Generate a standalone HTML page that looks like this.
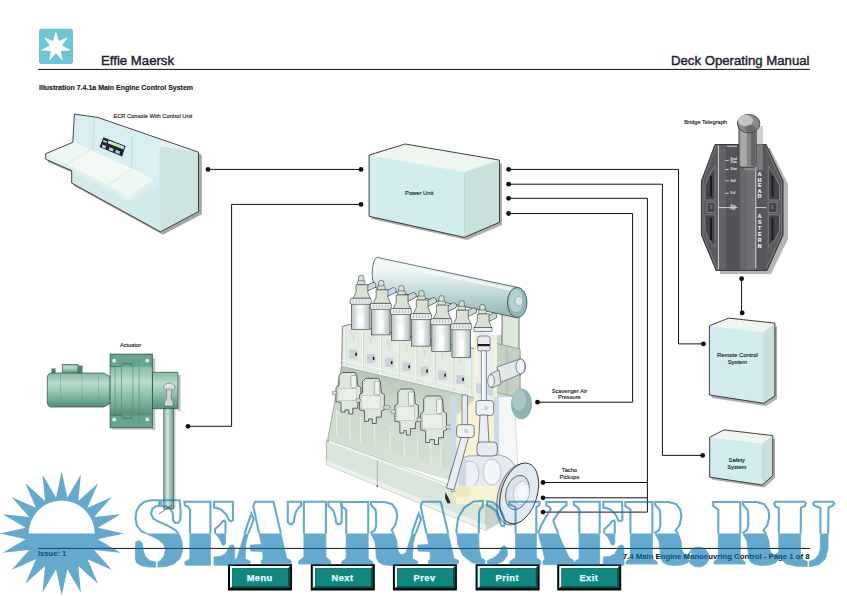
<!DOCTYPE html>
<html><head><meta charset="utf-8">
<style>
html,body{margin:0;padding:0;background:#fff;width:847px;height:596px;overflow:hidden}
svg{display:block}
text{font-family:"Liberation Sans",sans-serif}
</style></head><body>
<svg width="847" height="596" viewBox="0 0 847 596">
<defs>
<linearGradient id="gMan" x1="0" y1="0" x2="0" y2="1"><stop offset="0" stop-color="#eef5f5"/><stop offset="0.15" stop-color="#f4f9f9"/><stop offset="0.45" stop-color="#d3e3e4"/><stop offset="0.8" stop-color="#a9c5c7"/><stop offset="1" stop-color="#8fb1b3"/></linearGradient>
<linearGradient id="gAct" x1="0" y1="0" x2="0" y2="1"><stop offset="0" stop-color="#86bba6"/><stop offset="0.3" stop-color="#b9ddcd"/><stop offset="0.6" stop-color="#8ec2ac"/><stop offset="1" stop-color="#568f7a"/></linearGradient>
<linearGradient id="gRod" x1="0" y1="0" x2="1" y2="0"><stop offset="0" stop-color="#7fae9c"/><stop offset="0.4" stop-color="#cfe6dc"/><stop offset="1" stop-color="#6f9e8c"/></linearGradient>
<linearGradient id="gTel" x1="0" y1="0" x2="1" y2="0"><stop offset="0" stop-color="#3a3a3a"/><stop offset="0.5" stop-color="#6a6a6a"/><stop offset="1" stop-color="#3e3e3e"/></linearGradient>
<linearGradient id="gCup" x1="0" y1="0" x2="1" y2="0"><stop offset="0" stop-color="#b3bfbf"/><stop offset="0.2" stop-color="#e0e7e7"/><stop offset="0.5" stop-color="#f8fafa"/><stop offset="0.8" stop-color="#d8e0e0"/><stop offset="1" stop-color="#a5b2b2"/></linearGradient>
</defs>
<rect width="847" height="596" fill="#fff"/>

<!-- HEADER -->
<rect x="39" y="28.7" width="34" height="35.2" rx="2.7" fill="#6dc4d7"/>
<polygon fill="#fff" points="55.9,31.5 58.7,41.1 67.9,37.3 62.1,45.5 70.9,50.3 60.9,50.9 62.6,60.8 55.9,53.3 49.2,60.8 50.9,50.9 40.9,50.3 49.7,45.5 43.9,37.3 53.1,41.1"/>
<text x="101" y="64.7" font-size="13.2" fill="#1f2130" stroke="#1f2130" stroke-width="0.42">Effie Maersk</text>
<text x="809.5" y="64.8" font-size="13.2" fill="#1f2130" stroke="#1f2130" stroke-width="0.42" text-anchor="end">Deck Operating Manual</text>
<rect x="38" y="68.9" width="772" height="1" fill="#111"/>
<text x="39" y="90" font-size="7" font-weight="bold" fill="#1c1418" stroke="#1c1418" stroke-width="0.12">Illustration 7.4.1a Main Engine Control System</text>

<!-- CONNECTION LINES -->
<g stroke="#111" stroke-width="1" fill="none">
<path d="M208,169.4H361"/>
<path d="M361,204.4H231.6V426.3H188"/>
<path d="M508.6,169.4H678.5V343.9H703.5"/>
<path d="M508.6,184.2H662.4V455.4H702.7"/>
<path d="M508.6,198.3H647.4V512.1H543 M647.4,482.5H543 M647.4,497.8H543"/>
<path d="M508.6,213.5H632.6V402.2H537.5"/>
<path d="M741.6,278.7V312.9"/>
</g>
<g fill="#111">
<circle cx="208" cy="169.4" r="2.4"/>
<circle cx="361" cy="169.4" r="2.4"/>
<circle cx="361" cy="204.4" r="2.4"/>
<circle cx="188" cy="426.3" r="2.4"/>
<circle cx="508.6" cy="169.4" r="2.4"/>
<circle cx="508.6" cy="184.2" r="2.4"/>
<circle cx="508.6" cy="198.3" r="2.4"/>
<circle cx="508.6" cy="213.5" r="2.4"/>
<circle cx="703.5" cy="343.9" r="2.4"/>
<circle cx="702.7" cy="455.4" r="2.4"/>
<circle cx="537.5" cy="402.2" r="2.4"/>
<circle cx="543" cy="482.5" r="2.4"/>
<circle cx="543" cy="497.8" r="2.4"/>
<circle cx="543" cy="512.1" r="2.4"/>
<circle cx="741.6" cy="278.7" r="2.4"/>
<circle cx="742.2" cy="312.9" r="2.4"/>
</g>

<!-- POWER UNIT -->
<g>
<polygon points="371.5,158 467,175 502,163 502,225 467,240 371.5,219" fill="#9a9a9a" opacity="0.8"/>
<polygon points="369.1,155.1 405.2,144.0 499.5,160.1 464.4,172.1" fill="#eff6ef"/>
<polygon points="369.1,155.1 464.4,172.1 464.4,237.4 369.1,216.3" fill="#d3ecee"/>
<polygon points="464.4,172.1 499.5,160.1 499.5,222.3 464.4,237.4" fill="#c9e0dc"/>
<polygon points="369.1,155.1 405.2,144.0 499.5,160.1 499.5,222.3 464.4,237.4 369.1,216.3" fill="none" stroke="#2a2a2a" stroke-width="0.9"/>
<text x="419.2" y="195" font-size="5.8" text-anchor="middle" fill="#111" stroke="#111" stroke-width="0.12">Power Unit</text>
</g>

<!-- REMOTE CONTROL -->
<g>
<polygon points="711.5,328 766,335 777,326 777,399 766,406 711.5,398" fill="#9a9a9a" opacity="0.8"/>
<polygon points="709.4,325.8 728.7,318.1 774.9,323.1 763.8,332.3" fill="#eff6ef"/>
<polygon points="709.4,325.8 763.8,332.3 763.8,403.3 709.4,395" fill="#d3ecee"/>
<polygon points="763.8,332.3 774.9,323.1 774.9,396 763.8,403.3" fill="#c9e0dc"/>
<polygon points="709.4,325.8 728.7,318.1 774.9,323.1 774.9,396 763.8,403.3 709.4,395" fill="none" stroke="#2a2a2a" stroke-width="0.9"/>
<text x="737.4" y="357" font-size="5.8" text-anchor="middle" fill="#111" stroke="#111" stroke-width="0.12">Remote Control</text>
<text x="737.4" y="364.3" font-size="5.8" text-anchor="middle" fill="#111" stroke="#111" stroke-width="0.12">System</text>
</g>

<!-- SAFETY -->
<g>
<polygon points="711.5,439.5 764.5,446 775,438 775,478 764.5,487.5 711.5,479.5" fill="#9a9a9a" opacity="0.8"/>
<polygon points="709.7,437.2 724,429.9 772.8,435.6 762.3,443.6" fill="#eff6ef"/>
<polygon points="709.7,437.2 762.3,443.6 762.3,485 709.7,477.1" fill="#d3ecee"/>
<polygon points="762.3,443.6 772.8,435.6 772.8,475.5 762.3,485" fill="#c9e0dc"/>
<polygon points="709.7,437.2 724,429.9 772.8,435.6 772.8,475.5 762.3,485 709.7,477.1" fill="none" stroke="#2a2a2a" stroke-width="0.9"/>
<text x="736.8" y="462.2" font-size="5.8" text-anchor="middle" fill="#111" stroke="#111" stroke-width="0.12">Safety</text>
<text x="736.8" y="468.9" font-size="5.8" text-anchor="middle" fill="#111" stroke="#111" stroke-width="0.12">System</text>
</g>

<!-- ECR CONSOLE -->
<g>
<polygon points="76.9,116.6 100.2,119.9 201.8,154.8 201.8,214.3 162.8,234.8 73.9,185.8 73.9,173.3 47.9,162 47.9,156.4 75,145" fill="#8e8e8e" opacity="0.8"/>
<polygon points="74.4,114.1 97.7,117.4 198.5,152.2 198.5,211.5 160.5,231.8 71.7,183.1 71.7,170.6 45.7,159.3 45.7,153.7 72.8,142.3" fill="#d9eef0"/>
<!-- back panel divisions -->
<line x1="94.3" y1="118.6" x2="92.6" y2="150.6" stroke="#b5cfd2" stroke-width="0.6"/>
<line x1="132.1" y1="136" x2="131.5" y2="168" stroke="#b5cfd2" stroke-width="0.6"/>
<!-- right face -->
<polygon points="159.3,139.2 198.5,152.2 159.3,146.2" fill="#e6f2ee"/>
<polygon points="159.3,146.2 198.5,152.2 198.5,211.5 160.5,231.8 159.3,231" fill="#cfe4e1"/>
<!-- lower body front -->
<polygon points="71.7,172.6 129,199.5 159.3,188 159.3,231 71.7,183.1" fill="#d5eaea"/>
<!-- desk surfaces -->
<polygon points="46.1,154.6 72.2,141.5 90.6,149.9 66.9,164.5" fill="#eef7f3"/>
<polygon points="66.9,164.5 90.6,149.9 132.1,168.4 107.5,185.3" fill="#f2f9f5"/>
<polygon points="107.5,185.3 132.1,168.4 153.6,179.1 129,197.5" fill="#eef7f3"/>
<polygon points="45.7,153.7 46.1,154.6 66.9,164.5 107.5,185.3 129,197.5 153.6,179.1 153.6,183 129,201.5 107.5,189.3 66.9,168.5 45.7,159.3" fill="#e2f0ec"/>
<line x1="66.9" y1="164.5" x2="90.6" y2="149.9" stroke="#c8dcd8" stroke-width="0.5"/>
<line x1="107.5" y1="185.3" x2="132.1" y2="168.4" stroke="#c8dcd8" stroke-width="0.5"/>
<!-- display -->
<polygon points="103.5,137.2 125.5,145.9 122.2,156.4 99.5,147" fill="#1d2636"/>
<polygon points="108.5,140.6 124,146.6 123.3,149.2 107.8,143.2" fill="#d8ecc0"/>
<polygon points="113,142.3 119,144.6 118.5,147 112.4,144.7" fill="#c9e08a"/>
<polygon points="119,144.6 124,146.6 123.3,149.2 118.5,147" fill="#b8dcea"/>
<g fill="#c8ccd8"><polygon points="102.5,144.5 106,146 105.3,148.8 101.8,147.3"/><polygon points="109.5,147.2 113.5,148.8 112.8,151.6 108.8,150"/><polygon points="116,149.8 120,151.4 119.3,154.2 115.3,152.6"/><polygon points="103.5,140 107,141.3 106.5,143 103,141.7"/></g>
<!-- outline -->
<polyline points="72.8,142.3 74.4,114.1 97.7,117.4 198.5,152.2 198.5,211.5 160.5,231.8 71.7,183.1 71.7,170.6 45.7,159.3 45.7,153.7 72.8,142.3" fill="none" stroke="#1a1a1a" stroke-width="0.8"/>
</g>

<!-- BRIDGE TELEGRAPH -->
<g>
<polygon points="719,148 770,148 788,184 788,239 771,274 720,274" fill="#a8a8a8" opacity="0.85"/>
<polygon points="715,144.5 766,144.5 783,180.8 783,235.2 767.1,270.4 716.1,270.4 701.4,235.2 701.4,180.8" fill="#5b5b5f" stroke="#2a2a2a" stroke-width="0.9"/>
<polygon points="716,146 765,146 781.5,181 781.5,235 766,268.8 717,268.8 703,235 703,181" fill="none" stroke="#8a8a8a" stroke-width="0.6"/>
<!-- centre strip -->
<rect x="718.4" y="145.5" width="37.4" height="124" fill="#5a5a5e"/>
<rect x="718.4" y="145.5" width="7.6" height="124" fill="#636367"/>
<rect x="726" y="145.5" width="14" height="124" fill="#545458"/>
<rect x="740" y="145.5" width="15.8" height="124" fill="#68686c"/>
<rect x="747" y="145.5" width="8.8" height="124" fill="#707074"/>
<rect x="755.8" y="145.5" width="10.2" height="124" fill="#57575b"/>
<line x1="718.4" y1="145.5" x2="718.4" y2="269.5" stroke="#f2f2f2" stroke-width="0.8"/>
<line x1="755.8" y1="146.8" x2="755.8" y2="268.5" stroke="#f2f2f2" stroke-width="0.8"/>
<line x1="727" y1="146.2" x2="737" y2="146.2" stroke="#eee" stroke-width="0.8"/>
<!-- side panels -->
<g fill="#444448" stroke="#929296" stroke-width="0.7">
<polygon points="715,166 715,200 705,200 705,186 709,176"/>
<polygon points="715,202.3 715,212.5 707,212.5 707,202.3"/>
<polygon points="715,214.8 715,246.6 709,240 705,230 705,214.8"/>
<polygon points="768.3,166 768.3,200 779.5,200 779.5,186 775,176"/>
<polygon points="768.3,202.3 768.3,212.5 777,212.5 777,202.3"/>
<polygon points="768.3,214.8 768.3,246.6 775,240 779.5,230 779.5,214.8"/>
</g>
<g fill="#1c1c1c">
<rect x="710" y="176" width="2" height="21"/><rect x="710" y="218" width="2" height="22"/>
<rect x="771.5" y="176" width="2" height="21"/><rect x="771.5" y="218" width="2" height="22"/>
<rect x="710" y="205" width="2.5" height="4" fill="#6a6a6a"/><rect x="771" y="205" width="2.5" height="4" fill="#6a6a6a"/>
</g>
<!-- scale marks -->
<g stroke="#f0f0f0" stroke-width="0.8">
<line x1="725.2" y1="160.4" x2="728.6" y2="160.4"/>
<line x1="725.2" y1="169.5" x2="728.6" y2="169.5"/>
<line x1="725.2" y1="180.8" x2="728.6" y2="180.8"/>
<line x1="725.2" y1="193.3" x2="728.6" y2="193.3"/>
<line x1="718.4" y1="207.6" x2="737.5" y2="207.6"/>
<line x1="755.8" y1="207.6" x2="766" y2="207.6"/>
</g>
<g fill="#eee" font-size="2.7" font-weight="bold">
<text x="730.6" y="160.1">Dead</text><text x="730.6" y="163.4">Slow</text>
<text x="730.6" y="170.4">Slow</text>
<text x="730.6" y="181.7">Half</text>
<text x="730.6" y="194">Full</text>
<text x="730.6" y="206.5">Nav.</text><text x="730.6" y="209.9">Full</text>
</g>
<g fill="#f4f4f4" stroke="#f4f4f4" stroke-width="0.2" font-size="5.1" font-weight="bold" text-anchor="middle">
<text x="759.6" y="176">A</text><text x="759.6" y="181.6">H</text><text x="759.6" y="187.2">E</text><text x="759.6" y="192.8">A</text><text x="759.6" y="198.4">D</text>
<text x="759.6" y="218">A</text><text x="759.6" y="223.9">S</text><text x="759.6" y="229.8">T</text><text x="759.6" y="235.7">E</text><text x="759.6" y="241.6">R</text><text x="759.6" y="247.5">N</text>
</g>
<!-- handle -->
<path d="M744,126 L763,126 L763,170 L744,170 Z" fill="#a0a0a0" opacity="0.5"/>
<rect x="738.8" y="120" width="17.5" height="47.5" rx="3" fill="#858585" stroke="#2a2a2a" stroke-width="0.6"/>
<rect x="740.3" y="128" width="6.5" height="38" fill="#b0b0b0" opacity="0.85"/>
<rect x="751" y="128" width="4.5" height="38" fill="#5e5e5e" opacity="0.8"/>
<ellipse cx="748.6" cy="123.6" rx="11.3" ry="9.2" fill="#8a8a8a" stroke="#2a2a2a" stroke-width="0.7"/>
<ellipse cx="745.5" cy="120.5" rx="7.5" ry="5.8" fill="#c4c4c4"/>
<ellipse cx="750.5" cy="128.5" rx="5.5" ry="3.5" fill="#6e6e6e"/>
</g>

<!-- ACTUATOR -->
<g>
<rect x="152.3" y="358" width="3" height="72" fill="#9a9a9a" opacity="0.6"/>
<rect x="178" y="375" width="2.6" height="36" fill="#9a9a9a" opacity="0.6"/>
<rect x="112" y="427.7" width="42" height="2.2" fill="#9a9a9a" opacity="0.5"/>
<rect x="167" y="403" width="8.5" height="106" fill="#8a8a8a" opacity="0.45"/>
<rect x="163.8" y="404" width="9.6" height="105" fill="url(#gRod)" stroke="#2d4d44" stroke-width="0.6"/>
<line x1="159" y1="514" x2="172" y2="505" stroke="#222" stroke-width="0.6"/>
<rect x="62.2" y="364.5" width="15.7" height="9" fill="url(#gAct)" stroke="#2d4d44" stroke-width="0.6"/>
<rect x="51.5" y="368.5" width="4" height="4.6" fill="#4d7d70"/>
<rect x="78" y="365.5" width="4.5" height="7.6" fill="#4d7d70"/>
<path d="M52,373.1 H103.5 L110.1,376.5 V403.5 L103.5,407 H52 Q47.3,407 47.3,402 V378 Q47.3,373.1 52,373.1 Z" fill="url(#gAct)" stroke="#2d4d44" stroke-width="0.7"/>
<g stroke="#5e9a86" stroke-width="0.5" opacity="0.8"><line x1="60.5" y1="374" x2="60.5" y2="406"/><line x1="82" y1="374" x2="82" y2="406"/><line x1="98.5" y1="374" x2="98.5" y2="406"/></g>
<path d="M152.3,372.3 H177.9 V408.7 H152.3 Z" fill="url(#gAct)" stroke="#2d4d44" stroke-width="0.7"/>
<path d="M110.1,354.1 H152.3 V372.3 M152.3,408.7 V427.7 H110.1 Z" fill="none"/>
<rect x="110.1" y="354.1" width="42.2" height="73.6" fill="#68a48e" stroke="#2d4d44" stroke-width="0.8"/>
<rect x="110.6" y="366.5" width="41.2" height="48.8" fill="url(#gAct)"/>
<g stroke="#4f8a75" stroke-width="0.6"><line x1="115" y1="366.5" x2="115" y2="415.3"/><line x1="121.5" y1="366.5" x2="121.5" y2="415.3"/><line x1="133" y1="360" x2="133" y2="422"/><line x1="139" y1="360" x2="139" y2="422"/></g>
<path d="M110.6,366.5 H121 L123,363.5 H131 V366.5" fill="none" stroke="#2d4d44" stroke-width="0.5"/>
<path d="M110.6,415.3 H121 L123,418.3 H131 V415.3" fill="none" stroke="#2d4d44" stroke-width="0.5"/>
<g fill="#e8f5f0"><circle cx="114.2" cy="360.7" r="1.9"/><circle cx="147.3" cy="360.7" r="1.9"/><circle cx="114.2" cy="419.4" r="1.9"/><circle cx="147.3" cy="419.4" r="1.9"/></g>
<ellipse cx="169.3" cy="387" rx="5.5" ry="3.8" fill="#dfe5e5" stroke="#555" stroke-width="0.5"/>
<path d="M166.5,389 L172,389 L171,398 L173,402 L173,406 L164.5,406 L164.5,402 L166.5,398 Z" fill="#cfd7d7" stroke="#555" stroke-width="0.5"/>
</g>

<polygon points="494.0,336.0 503.0,334.0 519.0,348.0 521.0,352.0 521.0,398.0 494.0,398.0" fill="#c9d6c9"/>
<polygon points="502.0,306.0 519.0,309.0 519.0,352.0 502.0,349.0" fill="#dde7db" stroke="#222" stroke-width="0.6"/>
<polygon points="495.0,343.0 520.0,349.0 520.0,398.0 495.0,392.0" fill="#c3d0c3" stroke="#556" stroke-width="0.4"/>
<line x1="507" y1="346" x2="507" y2="395" stroke="#9aa79a" stroke-width="0.5"/>
<path d="M380,258 L517,287.3 L517,317.7 L376,288 A5.5,15 0 0 1 380,258 Z" fill="url(#gMan)" stroke="#2b3a3a" stroke-width="0.7"/>
<path d="M382,262 L515,290" stroke="#f4fafa" stroke-width="3" opacity="0.8"/>
<ellipse cx="517.2" cy="302.5" rx="9.8" ry="15.2" fill="#93b7b9" stroke="#2b3a3a" stroke-width="0.7"/>
<ellipse cx="516" cy="300.5" rx="7" ry="11.5" fill="#b3cfd0"/>
<ellipse cx="519" cy="301" rx="3.8" ry="4.6" fill="#d8e8e8" stroke="#6a8a8a" stroke-width="0.4"/>
<line x1="365.2" y1="289.3" x2="373.2" y2="285.3" stroke="#2f4444" stroke-width="6.2" stroke-linecap="round"/>
<line x1="365.2" y1="289.3" x2="373.2" y2="285.3" stroke="#c9dadb" stroke-width="5" stroke-linecap="round"/>
<line x1="385.3" y1="294.4" x2="393.3" y2="290.4" stroke="#2f4444" stroke-width="6.2" stroke-linecap="round"/>
<line x1="385.3" y1="294.4" x2="393.3" y2="290.4" stroke="#c9dadb" stroke-width="5" stroke-linecap="round"/>
<line x1="405.4" y1="299.5" x2="413.4" y2="295.5" stroke="#2f4444" stroke-width="6.2" stroke-linecap="round"/>
<line x1="405.4" y1="299.5" x2="413.4" y2="295.5" stroke="#c9dadb" stroke-width="5" stroke-linecap="round"/>
<line x1="425.5" y1="304.6" x2="433.5" y2="300.6" stroke="#2f4444" stroke-width="6.2" stroke-linecap="round"/>
<line x1="425.5" y1="304.6" x2="433.5" y2="300.6" stroke="#c9dadb" stroke-width="5" stroke-linecap="round"/>
<line x1="445.6" y1="309.7" x2="453.6" y2="305.7" stroke="#2f4444" stroke-width="6.2" stroke-linecap="round"/>
<line x1="445.6" y1="309.7" x2="453.6" y2="305.7" stroke="#c9dadb" stroke-width="5" stroke-linecap="round"/>
<line x1="465.7" y1="314.8" x2="473.7" y2="310.8" stroke="#2f4444" stroke-width="6.2" stroke-linecap="round"/>
<line x1="465.7" y1="314.8" x2="473.7" y2="310.8" stroke="#c9dadb" stroke-width="5" stroke-linecap="round"/>
<line x1="485.8" y1="319.9" x2="493.8" y2="315.9" stroke="#2f4444" stroke-width="6.2" stroke-linecap="round"/>
<line x1="485.8" y1="319.9" x2="493.8" y2="315.9" stroke="#c9dadb" stroke-width="5" stroke-linecap="round"/>
<defs><linearGradient id="gFr" x1="0" y1="0" x2="0" y2="1"><stop offset="0" stop-color="#b2c2b3"/><stop offset="0.3" stop-color="#cad7ca"/><stop offset="1" stop-color="#dce6dc"/></linearGradient></defs>
<polygon points="341.7,365.0 476.0,396.5 476.0,488.0 327.5,444.0 327.5,440.0" fill="url(#gFr)"/>
<line x1="341.7" y1="365" x2="327.5" y2="440" stroke="#666" stroke-width="0.5"/>
<polygon points="336.6,410.2 349.8,414.1 349.8,439.1 336.6,435.2" fill="#d2ddd2"/>
<line x1="336.6" y1="410.2" x2="336.6" y2="435.2" stroke="#f7faf7" stroke-width="1" stroke-dasharray="1.6,1.3"/>
<line x1="349.8" y1="414.1" x2="349.8" y2="439.1" stroke="#f7faf7" stroke-width="1" stroke-dasharray="1.6,1.3"/>
<polygon points="360.5,417.4 374.6,421.6 374.6,446.6 360.5,442.4" fill="#d2ddd2"/>
<line x1="360.5" y1="417.4" x2="360.5" y2="442.4" stroke="#f7faf7" stroke-width="1" stroke-dasharray="1.6,1.3"/>
<line x1="374.6" y1="421.6" x2="374.6" y2="446.6" stroke="#f7faf7" stroke-width="1" stroke-dasharray="1.6,1.3"/>
<polygon points="390.3,426.3 404.3,430.5 404.3,455.5 390.3,451.3" fill="#d2ddd2"/>
<line x1="390.3" y1="426.3" x2="390.3" y2="451.3" stroke="#f7faf7" stroke-width="1" stroke-dasharray="1.6,1.3"/>
<line x1="404.3" y1="430.5" x2="404.3" y2="455.5" stroke="#f7faf7" stroke-width="1" stroke-dasharray="1.6,1.3"/>
<polygon points="417.6,434.5 430.8,438.4 430.8,463.4 417.6,459.5" fill="#d2ddd2"/>
<line x1="417.6" y1="434.5" x2="417.6" y2="459.5" stroke="#f7faf7" stroke-width="1" stroke-dasharray="1.6,1.3"/>
<line x1="430.8" y1="438.4" x2="430.8" y2="463.4" stroke="#f7faf7" stroke-width="1" stroke-dasharray="1.6,1.3"/>
<polygon points="441,441.5 452,444.8 452,469.8 441,466.5" fill="#d2ddd2"/>
<line x1="441" y1="441.5" x2="441" y2="466.5" stroke="#f7faf7" stroke-width="1" stroke-dasharray="1.6,1.3"/>
<line x1="452" y1="444.8" x2="452" y2="469.8" stroke="#f7faf7" stroke-width="1" stroke-dasharray="1.6,1.3"/>
<polygon points="326.4,439.1 446.0,483.7 486.0,496.0 486.0,530.5 326.4,464.6" fill="#dae6db" stroke="#5a5a5a" stroke-width="0.4"/>
<polygon points="326.4,460.0 486.0,525.0 486.0,530.5 326.4,464.6" fill="#eaf2eb"/>
<polygon points="326.4,439.1 446.0,483.7 446.0,486.0 326.4,441.5" fill="#eef4ee"/>
<line x1="377.4" y1="461" x2="377.4" y2="485.9" stroke="#7d8c7d" stroke-width="0.5"/>
<circle cx="377.4" cy="486" r="0.8" fill="#222"/><circle cx="328" cy="441" r="0.7" fill="#222"/>
<polygon points="486.0,496.0 500.0,488.0 500.0,523.0 486.0,530.5" fill="#c4d1c5"/>
<polygon points="342.4,326.4 349.8,324.4 476.0,349.0 476.0,396.5 341.7,365.0" fill="#e3ebe2" stroke="#3a3a3a" stroke-width="0.6"/>
<line x1="345.0" y1="327.9" x2="345.0" y2="365.8" stroke="#f7faf7" stroke-width="1.1"/>
<line x1="346.0" y1="327.9" x2="346.0" y2="365.8" stroke="#b9c5b9" stroke-width="0.5"/>
<rect x="349.3" y="349.8" width="8.4" height="9" rx="1.5" fill="#c9d2d6"/>
<rect x="355.3" y="352.8" width="1.6" height="3" fill="#1a1a1a"/>
<path d="M350.5,331.9 l3,5 l3,-5 M353.5,336.9 v5" stroke="#c2cdc2" stroke-width="0.6" fill="none"/>
<line x1="362.5" y1="331.3" x2="362.5" y2="369.9" stroke="#f7faf7" stroke-width="1.1"/>
<line x1="363.5" y1="331.3" x2="363.5" y2="369.9" stroke="#b9c5b9" stroke-width="0.5"/>
<rect x="366.8" y="353.9" width="8.4" height="9" rx="1.5" fill="#c9d2d6"/>
<rect x="372.8" y="356.9" width="1.6" height="3" fill="#1a1a1a"/>
<path d="M368.0,335.3 l3,5 l3,-5 M371.0,340.3 v5" stroke="#c2cdc2" stroke-width="0.6" fill="none"/>
<line x1="380.6" y1="334.8" x2="380.6" y2="374.1" stroke="#f7faf7" stroke-width="1.1"/>
<line x1="381.6" y1="334.8" x2="381.6" y2="374.1" stroke="#b9c5b9" stroke-width="0.5"/>
<rect x="384.9" y="358.1" width="8.4" height="9" rx="1.5" fill="#c9d2d6"/>
<rect x="390.9" y="361.1" width="1.6" height="3" fill="#1a1a1a"/>
<path d="M386.1,338.8 l3,5 l3,-5 M389.1,343.8 v5" stroke="#c2cdc2" stroke-width="0.6" fill="none"/>
<line x1="398.1" y1="338.3" x2="398.1" y2="378.3" stroke="#f7faf7" stroke-width="1.1"/>
<line x1="399.1" y1="338.3" x2="399.1" y2="378.3" stroke="#b9c5b9" stroke-width="0.5"/>
<rect x="402.4" y="362.3" width="8.4" height="9" rx="1.5" fill="#c9d2d6"/>
<rect x="408.4" y="365.3" width="1.6" height="3" fill="#1a1a1a"/>
<path d="M403.6,342.3 l3,5 l3,-5 M406.6,347.3 v5" stroke="#c2cdc2" stroke-width="0.6" fill="none"/>
<line x1="416.0" y1="341.8" x2="416.0" y2="382.5" stroke="#f7faf7" stroke-width="1.1"/>
<line x1="417.0" y1="341.8" x2="417.0" y2="382.5" stroke="#b9c5b9" stroke-width="0.5"/>
<rect x="420.3" y="366.5" width="8.4" height="9" rx="1.5" fill="#c9d2d6"/>
<rect x="426.3" y="369.5" width="1.6" height="3" fill="#1a1a1a"/>
<path d="M421.5,345.8 l3,5 l3,-5 M424.5,350.8 v5" stroke="#c2cdc2" stroke-width="0.6" fill="none"/>
<line x1="434.0" y1="345.3" x2="434.0" y2="386.7" stroke="#f7faf7" stroke-width="1.1"/>
<line x1="435.0" y1="345.3" x2="435.0" y2="386.7" stroke="#b9c5b9" stroke-width="0.5"/>
<rect x="438.3" y="370.7" width="8.4" height="9" rx="1.5" fill="#c9d2d6"/>
<rect x="444.3" y="373.7" width="1.6" height="3" fill="#1a1a1a"/>
<path d="M439.5,349.3 l3,5 l3,-5 M442.5,354.3 v5" stroke="#c2cdc2" stroke-width="0.6" fill="none"/>
<line x1="452.0" y1="348.8" x2="452.0" y2="390.9" stroke="#f7faf7" stroke-width="1.1"/>
<line x1="453.0" y1="348.8" x2="453.0" y2="390.9" stroke="#b9c5b9" stroke-width="0.5"/>
<rect x="456.3" y="374.9" width="8.4" height="9" rx="1.5" fill="#c9d2d6"/>
<rect x="462.3" y="377.9" width="1.6" height="3" fill="#1a1a1a"/>
<path d="M457.5,352.8 l3,5 l3,-5 M460.5,357.8 v5" stroke="#c2cdc2" stroke-width="0.6" fill="none"/>
<line x1="470.0" y1="352.3" x2="470.0" y2="395.2" stroke="#f7faf7" stroke-width="1.1"/>
<line x1="471.0" y1="352.3" x2="471.0" y2="395.2" stroke="#b9c5b9" stroke-width="0.5"/>
<line x1="341.7" y1="365" x2="476" y2="396.5" stroke="#f4f8f4" stroke-width="1.5"/>
<line x1="341.7" y1="360" x2="476" y2="391.5" stroke="#f4f8f4" stroke-width="1"/>
<line x1="341.7" y1="366.5" x2="476" y2="398" stroke="#9aa69a" stroke-width="0.5"/>
<polygon points="339.0,375.5 342.0,372.5 354.8,372.5 356.8,375.5 357.8,385.8 360.8,387.4 360.8,401.6 357.8,402.4 357.8,408.2 352.8,408.2 352.8,414.0 348.8,414.0 348.8,409.9 345.0,409.9 345.0,412.0 341.0,412.0 341.0,402.4 336.0,401.6 336.0,387.4 339.0,385.8" fill="#dfe8de" stroke="#1e1e1e" stroke-width="0.65"/>
<rect x="338.0" y="388.3" width="18.8" height="12.4" fill="#e9efe8" stroke="#9aa69a" stroke-width="0.4"/>
<rect x="350.8" y="375.5" width="5.5" height="12.4" rx="1" fill="#eef2f2" stroke="#555" stroke-width="0.4"/>
<rect x="332.0" y="391.2" width="5" height="3.6" rx="1.8" fill="#d3dcdc" stroke="#444" stroke-width="0.4"/>
<rect x="359.8" y="397.4" width="7" height="4" rx="2" fill="#c9d3d6" stroke="#444" stroke-width="0.4"/>
<polygon points="362.6,381.4 365.6,378.4 378.3,378.4 380.3,381.4 381.3,392.8 384.3,394.6 384.3,409.9 381.3,410.8 381.3,417.1 376.3,417.1 376.3,423.4 372.3,423.4 372.3,418.9 368.6,418.9 368.6,421.4 364.6,421.4 364.6,410.8 359.6,409.9 359.6,394.6 362.6,392.8" fill="#dfe8de" stroke="#1e1e1e" stroke-width="0.65"/>
<rect x="361.6" y="395.5" width="18.7" height="13.5" fill="#e9efe8" stroke="#9aa69a" stroke-width="0.4"/>
<rect x="374.3" y="381.4" width="5.5" height="13.5" rx="1" fill="#eef2f2" stroke="#555" stroke-width="0.4"/>
<rect x="355.6" y="398.6" width="5" height="3.6" rx="1.8" fill="#d3dcdc" stroke="#444" stroke-width="0.4"/>
<rect x="383.3" y="405.4" width="7" height="4" rx="2" fill="#c9d3d6" stroke="#444" stroke-width="0.4"/>
<polygon points="397.9,392.0 400.9,389.0 412.4,389.0 414.4,392.0 415.4,403.8 418.4,405.6 418.4,421.3 415.4,422.2 415.4,428.6 410.4,428.6 410.4,435.1 406.4,435.1 406.4,430.5 403.9,430.5 403.9,433.1 399.9,433.1 399.9,422.2 394.9,421.3 394.9,405.6 397.9,403.8" fill="#dfe8de" stroke="#1e1e1e" stroke-width="0.65"/>
<rect x="396.9" y="406.5" width="17.5" height="13.8" fill="#e9efe8" stroke="#9aa69a" stroke-width="0.4"/>
<rect x="408.4" y="392.0" width="5.5" height="13.8" rx="1" fill="#eef2f2" stroke="#555" stroke-width="0.4"/>
<rect x="390.9" y="409.7" width="5" height="3.6" rx="1.8" fill="#d3dcdc" stroke="#444" stroke-width="0.4"/>
<rect x="417.4" y="416.7" width="7" height="4" rx="2" fill="#c9d3d6" stroke="#444" stroke-width="0.4"/>
<polygon points="423.7,399.0 426.7,396.0 440.5,396.0 442.5,399.0 443.5,411.5 446.5,413.5 446.5,429.9 443.5,430.9 443.5,437.7 438.5,437.7 438.5,444.5 434.5,444.5 434.5,439.6 429.7,439.6 429.7,442.5 425.7,442.5 425.7,430.9 420.7,429.9 420.7,413.5 423.7,411.5" fill="#dfe8de" stroke="#1e1e1e" stroke-width="0.65"/>
<rect x="422.7" y="414.4" width="19.8" height="14.5" fill="#e9efe8" stroke="#9aa69a" stroke-width="0.4"/>
<rect x="436.5" y="399.0" width="5.5" height="14.5" rx="1" fill="#eef2f2" stroke="#555" stroke-width="0.4"/>
<rect x="416.7" y="417.8" width="5" height="3.6" rx="1.8" fill="#d3dcdc" stroke="#444" stroke-width="0.4"/>
<rect x="445.5" y="425.1" width="7" height="4" rx="2" fill="#c9d3d6" stroke="#444" stroke-width="0.4"/>
<rect x="358.5" y="275.3" width="5.3" height="10" rx="2.3" fill="#d9e2d9" stroke="#222" stroke-width="0.5"/>
<rect x="357.4" y="280.8" width="7.6" height="4" rx="1" fill="#d9e2d9" stroke="#222" stroke-width="0.45"/>
<path d="M356.0,284.7 H367.8 V292.3 L370.4,298.3 H353.0 L356.0,292.3 Z" fill="#d7e1d6" stroke="#222" stroke-width="0.55"/>
<rect x="351.4" y="303.3" width="18.6" height="26.0" fill="url(#gCup)" stroke="#222" stroke-width="0.55"/>
<rect x="350.2" y="298.3" width="21.0" height="6" rx="1.5" fill="#eaefef" stroke="#222" stroke-width="0.55"/>
<line x1="353.2" y1="299.8" x2="353.2" y2="302.8" stroke="#7d8a8a" stroke-width="0.5"/>
<line x1="356.2" y1="299.8" x2="356.2" y2="302.8" stroke="#7d8a8a" stroke-width="0.5"/>
<line x1="359.2" y1="299.8" x2="359.2" y2="302.8" stroke="#7d8a8a" stroke-width="0.5"/>
<line x1="362.2" y1="299.8" x2="362.2" y2="302.8" stroke="#7d8a8a" stroke-width="0.5"/>
<line x1="365.2" y1="299.8" x2="365.2" y2="302.8" stroke="#7d8a8a" stroke-width="0.5"/>
<line x1="368.2" y1="299.8" x2="368.2" y2="302.8" stroke="#7d8a8a" stroke-width="0.5"/>
<rect x="358.2" y="314.3" width="5" height="12.0" fill="#ffffff" opacity="0.9"/>
<line x1="354.7" y1="305.3" x2="354.7" y2="329.3" stroke="#b4bebe" stroke-width="0.4"/>
<line x1="365.7" y1="305.3" x2="365.7" y2="329.3" stroke="#b4bebe" stroke-width="0.4"/>
<rect x="378.6" y="280.4" width="5.3" height="10" rx="2.3" fill="#d9e2d9" stroke="#222" stroke-width="0.5"/>
<rect x="377.5" y="285.9" width="7.6" height="4" rx="1" fill="#d9e2d9" stroke="#222" stroke-width="0.45"/>
<path d="M376.1,289.8 H387.9 V297.4 L390.5,303.4 H373.1 L376.1,297.4 Z" fill="#d7e1d6" stroke="#222" stroke-width="0.55"/>
<rect x="371.5" y="308.4" width="18.6" height="26.5" fill="url(#gCup)" stroke="#222" stroke-width="0.55"/>
<rect x="370.3" y="303.4" width="21.0" height="6" rx="1.5" fill="#eaefef" stroke="#222" stroke-width="0.55"/>
<line x1="373.3" y1="304.9" x2="373.3" y2="307.9" stroke="#7d8a8a" stroke-width="0.5"/>
<line x1="376.3" y1="304.9" x2="376.3" y2="307.9" stroke="#7d8a8a" stroke-width="0.5"/>
<line x1="379.3" y1="304.9" x2="379.3" y2="307.9" stroke="#7d8a8a" stroke-width="0.5"/>
<line x1="382.3" y1="304.9" x2="382.3" y2="307.9" stroke="#7d8a8a" stroke-width="0.5"/>
<line x1="385.3" y1="304.9" x2="385.3" y2="307.9" stroke="#7d8a8a" stroke-width="0.5"/>
<line x1="388.3" y1="304.9" x2="388.3" y2="307.9" stroke="#7d8a8a" stroke-width="0.5"/>
<rect x="378.3" y="319.4" width="5" height="12.5" fill="#ffffff" opacity="0.9"/>
<line x1="374.8" y1="310.4" x2="374.8" y2="334.9" stroke="#b4bebe" stroke-width="0.4"/>
<line x1="385.8" y1="310.4" x2="385.8" y2="334.9" stroke="#b4bebe" stroke-width="0.4"/>
<rect x="398.7" y="285.5" width="5.3" height="10" rx="2.3" fill="#d9e2d9" stroke="#222" stroke-width="0.5"/>
<rect x="397.6" y="291.0" width="7.6" height="4" rx="1" fill="#d9e2d9" stroke="#222" stroke-width="0.45"/>
<path d="M396.2,294.9 H408.0 V302.5 L410.6,308.5 H393.2 L396.2,302.5 Z" fill="#d7e1d6" stroke="#222" stroke-width="0.55"/>
<rect x="391.6" y="313.5" width="18.6" height="27.0" fill="url(#gCup)" stroke="#222" stroke-width="0.55"/>
<rect x="390.4" y="308.5" width="21.0" height="6" rx="1.5" fill="#eaefef" stroke="#222" stroke-width="0.55"/>
<line x1="393.4" y1="310.0" x2="393.4" y2="313.0" stroke="#7d8a8a" stroke-width="0.5"/>
<line x1="396.4" y1="310.0" x2="396.4" y2="313.0" stroke="#7d8a8a" stroke-width="0.5"/>
<line x1="399.4" y1="310.0" x2="399.4" y2="313.0" stroke="#7d8a8a" stroke-width="0.5"/>
<line x1="402.4" y1="310.0" x2="402.4" y2="313.0" stroke="#7d8a8a" stroke-width="0.5"/>
<line x1="405.4" y1="310.0" x2="405.4" y2="313.0" stroke="#7d8a8a" stroke-width="0.5"/>
<line x1="408.4" y1="310.0" x2="408.4" y2="313.0" stroke="#7d8a8a" stroke-width="0.5"/>
<rect x="398.4" y="324.5" width="5" height="13.0" fill="#ffffff" opacity="0.9"/>
<line x1="394.9" y1="315.5" x2="394.9" y2="340.5" stroke="#b4bebe" stroke-width="0.4"/>
<line x1="405.9" y1="315.5" x2="405.9" y2="340.5" stroke="#b4bebe" stroke-width="0.4"/>
<rect x="418.8" y="290.6" width="5.3" height="10" rx="2.3" fill="#d9e2d9" stroke="#222" stroke-width="0.5"/>
<rect x="417.7" y="296.1" width="7.6" height="4" rx="1" fill="#d9e2d9" stroke="#222" stroke-width="0.45"/>
<path d="M416.3,300.0 H428.1 V307.6 L430.7,313.6 H413.3 L416.3,307.6 Z" fill="#d7e1d6" stroke="#222" stroke-width="0.55"/>
<rect x="411.7" y="318.6" width="18.6" height="27.5" fill="url(#gCup)" stroke="#222" stroke-width="0.55"/>
<rect x="410.5" y="313.6" width="21.0" height="6" rx="1.5" fill="#eaefef" stroke="#222" stroke-width="0.55"/>
<line x1="413.5" y1="315.1" x2="413.5" y2="318.1" stroke="#7d8a8a" stroke-width="0.5"/>
<line x1="416.5" y1="315.1" x2="416.5" y2="318.1" stroke="#7d8a8a" stroke-width="0.5"/>
<line x1="419.5" y1="315.1" x2="419.5" y2="318.1" stroke="#7d8a8a" stroke-width="0.5"/>
<line x1="422.5" y1="315.1" x2="422.5" y2="318.1" stroke="#7d8a8a" stroke-width="0.5"/>
<line x1="425.5" y1="315.1" x2="425.5" y2="318.1" stroke="#7d8a8a" stroke-width="0.5"/>
<line x1="428.5" y1="315.1" x2="428.5" y2="318.1" stroke="#7d8a8a" stroke-width="0.5"/>
<rect x="418.5" y="329.6" width="5" height="13.5" fill="#ffffff" opacity="0.9"/>
<line x1="415.0" y1="320.6" x2="415.0" y2="346.1" stroke="#b4bebe" stroke-width="0.4"/>
<line x1="426.0" y1="320.6" x2="426.0" y2="346.1" stroke="#b4bebe" stroke-width="0.4"/>
<rect x="438.9" y="295.7" width="5.3" height="10" rx="2.3" fill="#d9e2d9" stroke="#222" stroke-width="0.5"/>
<rect x="437.8" y="301.2" width="7.6" height="4" rx="1" fill="#d9e2d9" stroke="#222" stroke-width="0.45"/>
<path d="M436.4,305.1 H448.2 V312.7 L450.8,318.7 H433.4 L436.4,312.7 Z" fill="#d7e1d6" stroke="#222" stroke-width="0.55"/>
<rect x="431.8" y="323.7" width="18.6" height="28.0" fill="url(#gCup)" stroke="#222" stroke-width="0.55"/>
<rect x="430.6" y="318.7" width="21.0" height="6" rx="1.5" fill="#eaefef" stroke="#222" stroke-width="0.55"/>
<line x1="433.6" y1="320.2" x2="433.6" y2="323.2" stroke="#7d8a8a" stroke-width="0.5"/>
<line x1="436.6" y1="320.2" x2="436.6" y2="323.2" stroke="#7d8a8a" stroke-width="0.5"/>
<line x1="439.6" y1="320.2" x2="439.6" y2="323.2" stroke="#7d8a8a" stroke-width="0.5"/>
<line x1="442.6" y1="320.2" x2="442.6" y2="323.2" stroke="#7d8a8a" stroke-width="0.5"/>
<line x1="445.6" y1="320.2" x2="445.6" y2="323.2" stroke="#7d8a8a" stroke-width="0.5"/>
<line x1="448.6" y1="320.2" x2="448.6" y2="323.2" stroke="#7d8a8a" stroke-width="0.5"/>
<rect x="438.6" y="334.7" width="5" height="14.0" fill="#ffffff" opacity="0.9"/>
<line x1="435.1" y1="325.7" x2="435.1" y2="351.7" stroke="#b4bebe" stroke-width="0.4"/>
<line x1="446.1" y1="325.7" x2="446.1" y2="351.7" stroke="#b4bebe" stroke-width="0.4"/>
<rect x="459.0" y="300.8" width="5.3" height="10" rx="2.3" fill="#d9e2d9" stroke="#222" stroke-width="0.5"/>
<rect x="457.9" y="306.3" width="7.6" height="4" rx="1" fill="#d9e2d9" stroke="#222" stroke-width="0.45"/>
<path d="M456.5,310.2 H468.3 V317.8 L470.9,323.8 H453.5 L456.5,317.8 Z" fill="#d7e1d6" stroke="#222" stroke-width="0.55"/>
<rect x="451.9" y="328.8" width="18.6" height="28.5" fill="url(#gCup)" stroke="#222" stroke-width="0.55"/>
<rect x="450.7" y="323.8" width="21.0" height="6" rx="1.5" fill="#eaefef" stroke="#222" stroke-width="0.55"/>
<line x1="453.7" y1="325.3" x2="453.7" y2="328.3" stroke="#7d8a8a" stroke-width="0.5"/>
<line x1="456.7" y1="325.3" x2="456.7" y2="328.3" stroke="#7d8a8a" stroke-width="0.5"/>
<line x1="459.7" y1="325.3" x2="459.7" y2="328.3" stroke="#7d8a8a" stroke-width="0.5"/>
<line x1="462.7" y1="325.3" x2="462.7" y2="328.3" stroke="#7d8a8a" stroke-width="0.5"/>
<line x1="465.7" y1="325.3" x2="465.7" y2="328.3" stroke="#7d8a8a" stroke-width="0.5"/>
<line x1="468.7" y1="325.3" x2="468.7" y2="328.3" stroke="#7d8a8a" stroke-width="0.5"/>
<rect x="458.7" y="339.8" width="5" height="14.5" fill="#ffffff" opacity="0.9"/>
<line x1="455.2" y1="330.8" x2="455.2" y2="357.3" stroke="#b4bebe" stroke-width="0.4"/>
<line x1="466.2" y1="330.8" x2="466.2" y2="357.3" stroke="#b4bebe" stroke-width="0.4"/>
<polygon points="474.0,330.0 477.0,330.0 477.0,400.0 493.0,404.0 494.0,335.0 497.0,335.0 497.0,470.0 512.0,470.0 512.0,487.0 496.0,500.0 454.0,500.0 451.0,420.0 474.0,400.0" fill="#f7f2d3"/>
<polygon points="477.0,330.0 494.0,335.0 494.0,404.0 477.0,400.0" fill="#e8edf2"/>
<polygon points="476.0,383.0 493.0,386.0 493.0,396.0 476.0,393.0" fill="#c7dbe6"/>
<polygon points="494.0,397.0 514.0,397.0 518.0,466.0 494.0,466.0" fill="#f4f7fa"/>
<polygon points="494.0,397.0 499.0,397.0 499.0,466.0 494.0,466.0" fill="#c9dbe8"/>
<line x1="514" y1="397" x2="518" y2="466" stroke="#b8c6d4" stroke-width="0.6"/>
<polygon points="451.0,395.0 456.6,397.0 456.6,478.0 451.0,476.0" fill="#c8dbe6"/>
<rect x="479.8" y="304.5" width="5.3" height="10" rx="2.3" fill="#d9e2d9" stroke="#222" stroke-width="0.5"/>
<rect x="478.7" y="310.0" width="7.6" height="4" rx="1" fill="#d9e2d9" stroke="#222" stroke-width="0.45"/>
<path d="M477.3,313.9 H489.1 V321.5 L491.7,327.5 H474.3 L477.3,321.5 Z" fill="#d7e1d6" stroke="#222" stroke-width="0.55"/>
<rect x="474.0" y="327.5" width="18" height="4" fill="#eaefef" stroke="#222" stroke-width="0.5"/>
<rect x="477.6" y="336" width="12.4" height="15" rx="2.5" fill="#e9edf1" stroke="#222" stroke-width="0.5"/>
<rect x="477.8" y="344" width="12" height="2.2" fill="#1a1a1a"/>
<rect x="481.2" y="351" width="5.4" height="51" fill="#e3e8ee" stroke="#444" stroke-width="0.5"/>
<rect x="482.3" y="351" width="1.6" height="51" fill="#ffffff"/>
<path d="M449,478 Q452,460 468,456 L500,455 Q514,458 517,472 L516,486 L470,489 L452,492 Z" fill="#e4eaf2" stroke="#555" stroke-width="0.5"/>
<ellipse cx="470" cy="474" rx="9" ry="13" fill="#eef2f8" stroke="#8a96a8" stroke-width="0.5"/>
<ellipse cx="492" cy="472" rx="9" ry="13" fill="#f2f5fa" stroke="#8a96a8" stroke-width="0.5"/>
<path d="M459,462 L466,458 L466,490 L459,492 Z" fill="#cfd9e6"/>
<rect x="476" y="400.5" width="17.6" height="15" rx="3" fill="#eef1f6" stroke="#222" stroke-width="0.55"/>
<circle cx="486" cy="408" r="2" fill="#c8d0da"/>
<polygon points="480.0,415.0 487.5,415.0 489.0,443.0 478.5,443.0" fill="#e8edf4" stroke="#222" stroke-width="0.55"/>
<rect x="477" y="442" width="20.3" height="14" rx="4" fill="#e6ebf2" stroke="#222" stroke-width="0.55"/>
<rect x="462" y="395" width="5.7" height="31" fill="#e6ebf1" stroke="#333" stroke-width="0.5"/>
<rect x="456.6" y="424.6" width="17.6" height="13" rx="3.5" fill="#eef1f6" stroke="#222" stroke-width="0.55"/>
<circle cx="466" cy="431" r="2" fill="#c8d0da"/>
<polygon points="461.0,437.5 468.5,437.5 454.0,490.0 446.5,488.0" fill="#e8edf4" stroke="#222" stroke-width="0.55"/>
<polygon points="456.6,486.0 500.0,486.0 500.0,504.0 456.6,504.0" fill="#f7f2d3"/>
<polygon points="456.6,486.0 470.0,486.0 470.0,497.0 456.6,497.0" fill="#efe9c6"/>
<path d="M445.5,492 L449,499 L450.5,503 L447.5,503.5 L445,498 Z" fill="#2a2a2a"/>
<path d="M497,367 L520,359 A5,7.5 0 0 1 521,374 L499,383 Z" fill="#e3e9ea" stroke="#222" stroke-width="0.5"/>
<ellipse cx="520.5" cy="366.5" rx="4.5" ry="7.5" fill="#f0f4f4" stroke="#222" stroke-width="0.5"/>
<path d="M490,374 L499,370 L501,384 L492,388 Z" fill="#dde4e6" stroke="#222" stroke-width="0.5"/>
<ellipse cx="491" cy="381" rx="3.3" ry="6.5" fill="#eef2f3" stroke="#222" stroke-width="0.5"/>
<ellipse cx="521.5" cy="404" rx="10.5" ry="15.3" fill="#8db3b3"/>
<ellipse cx="519" cy="400" rx="7" ry="10.5" fill="#a8c7c6"/>
<ellipse cx="516.3" cy="494.5" rx="18" ry="31.5" transform="rotate(17 516.3 494.5)" fill="#cfd8e4" stroke="#333" stroke-width="0.6"/>
<ellipse cx="519.2" cy="493.4" rx="18" ry="31.3" transform="rotate(17 519.2 493.4)" fill="#e3e9f1" stroke="#1a1a1a" stroke-width="0.8"/>
<ellipse cx="517.5" cy="492.5" rx="11.5" ry="17.5" transform="rotate(15 517.5 492.5)" fill="#d9e1ec" stroke="#222" stroke-width="0.6"/>
<ellipse cx="521.5" cy="493" rx="8" ry="12" transform="rotate(12 521.5 493)" fill="#edf1f7" stroke="#a0acbc" stroke-width="0.5"/>
<ellipse cx="523" cy="492" rx="4.5" ry="7" transform="rotate(12 523 492)" fill="#f7f9fc"/>
<!-- LABELS -->
<g font-size="5.7" fill="#111" stroke="#111" stroke-width="0.12" text-anchor="middle">
<text x="152.9" y="118">ECR Console With Control Unit</text>
<text x="705.6" y="124">Bridge Telegraph</text>
<text x="130.5" y="347">Actuator</text>
<text x="569.4" y="393">Scavenger Air</text>
<text x="569.4" y="399.4">Pressure</text>
<text x="569.4" y="472">Tacho</text>
<text x="569.4" y="479">Pickups</text>
</g>

<!-- FOOTER -->
<rect x="38" y="547.9" width="772" height="1" fill="#111"/>
<text x="38" y="556.3" font-size="7.6" font-weight="bold" fill="#0a0f18">Issue: 1</text>
<text x="809.6" y="558.7" font-size="7.78" font-weight="bold" fill="#0a0f18" text-anchor="end">7.4 Main Engine Manoeuvring Control - Page 1 of 8</text>

<rect x="228" y="564.2" width="64" height="26.3" fill="#050505"/>
<polygon points="230,566.0 290.3,566.0 288.3,568.2 232.3,568.2 232.3,586.5 230,588.3000000000001" fill="#e6fbf8"/>
<polygon points="290.3,566.0 290.3,588.3000000000001 230,588.3000000000001 232.3,586.5 288.3,586.5 288.3,568.2" fill="#0a4f4c"/>
<rect x="232.3" y="568.2" width="56" height="18.3" fill="#11877f"/>
<text x="259.7" y="580.9000000000001" font-size="9.3" font-weight="bold" letter-spacing="0.45" fill="#e6ffff" stroke="#e6ffff" stroke-width="0.25" text-anchor="middle">Menu</text>
<rect x="310.8" y="564.2" width="64" height="26.3" fill="#050505"/>
<polygon points="312.8,566.0 373.1,566.0 371.1,568.2 315.1,568.2 315.1,586.5 312.8,588.3000000000001" fill="#e6fbf8"/>
<polygon points="373.1,566.0 373.1,588.3000000000001 312.8,588.3000000000001 315.1,586.5 371.1,586.5 371.1,568.2" fill="#0a4f4c"/>
<rect x="315.1" y="568.2" width="56" height="18.3" fill="#11877f"/>
<text x="342.5" y="580.9000000000001" font-size="9.3" font-weight="bold" letter-spacing="0.45" fill="#e6ffff" stroke="#e6ffff" stroke-width="0.25" text-anchor="middle">Next</text>
<rect x="392.9" y="564.2" width="64" height="26.3" fill="#050505"/>
<polygon points="394.9,566.0 455.2,566.0 453.2,568.2 397.2,568.2 397.2,586.5 394.9,588.3000000000001" fill="#e6fbf8"/>
<polygon points="455.2,566.0 455.2,588.3000000000001 394.9,588.3000000000001 397.2,586.5 453.2,586.5 453.2,568.2" fill="#0a4f4c"/>
<rect x="397.2" y="568.2" width="56" height="18.3" fill="#11877f"/>
<text x="424.59999999999997" y="580.9000000000001" font-size="9.3" font-weight="bold" letter-spacing="0.45" fill="#e6ffff" stroke="#e6ffff" stroke-width="0.25" text-anchor="middle">Prev</text>
<rect x="475.6" y="564.2" width="64" height="26.3" fill="#050505"/>
<polygon points="477.6,566.0 537.9,566.0 535.9,568.2 479.90000000000003,568.2 479.90000000000003,586.5 477.6,588.3000000000001" fill="#e6fbf8"/>
<polygon points="537.9,566.0 537.9,588.3000000000001 477.6,588.3000000000001 479.90000000000003,586.5 535.9,586.5 535.9,568.2" fill="#0a4f4c"/>
<rect x="479.90000000000003" y="568.2" width="56" height="18.3" fill="#11877f"/>
<text x="507.3" y="580.9000000000001" font-size="9.3" font-weight="bold" letter-spacing="0.45" fill="#e6ffff" stroke="#e6ffff" stroke-width="0.25" text-anchor="middle">Print</text>
<rect x="557.2" y="564.2" width="64" height="26.3" fill="#050505"/>
<polygon points="559.2,566.0 619.5,566.0 617.5,568.2 561.5,568.2 561.5,586.5 559.2,588.3000000000001" fill="#e6fbf8"/>
<polygon points="619.5,566.0 619.5,588.3000000000001 559.2,588.3000000000001 561.5,586.5 617.5,586.5 617.5,568.2" fill="#0a4f4c"/>
<rect x="561.5" y="568.2" width="56" height="18.3" fill="#11877f"/>
<text x="588.9000000000001" y="580.9000000000001" font-size="9.3" font-weight="bold" letter-spacing="0.45" fill="#e6ffff" stroke="#e6ffff" stroke-width="0.25" text-anchor="middle">Exit</text>

<!-- WATERMARK -->
<defs>
<clipPath id="cTop"><rect x="0" y="0" width="847" height="533.5"/></clipPath>
<clipPath id="cBot"><rect x="0" y="533.5" width="847" height="70"/></clipPath>
</defs>
<g opacity="0.62">
<path fill-rule="evenodd" fill="#0876ae" d="M61.7,471.5 L67.4,497.4 L80.9,474.5 L78.3,501.0 L98.1,483.3 L87.5,507.7 L111.9,497.1 L94.2,516.9 L120.7,514.3 L97.8,527.8 L123.7,533.5 L97.8,539.2 L120.7,552.7 L94.2,550.1 L111.9,569.9 L87.5,559.3 L98.1,583.7 L78.3,566.0 L80.9,592.5 L67.4,569.6 L61.7,595.5 L56.0,569.6 L42.5,592.5 L45.1,566.0 L25.3,583.7 L35.9,559.3 L11.5,569.9 L29.2,550.1 L2.7,552.7 L25.6,539.2 L-0.3,533.5 L25.6,527.8 L2.7,514.3 L29.2,516.9 L11.5,497.1 L35.9,507.7 L25.3,483.3 L45.1,501.0 L42.5,474.5 L56.0,497.4 Z M28.7,533.5 A33,33 0 0 1 94.7,533.5 Z"/>
<path d="M159.2,500.2 152.0,500.2 144.5,501.7 139.1,506.1 136.3,511.7 135.5,518.6 136.9,525.6 141.3,531.2 148.9,535.0 157.0,538.8 163.0,543.2 165.5,548.8 164.2,555.7 160.8,560.2 157.9,562.0 157.9,567.1 166.5,566.4 174.0,563.9 179.7,558.9 182.6,551.3 182.2,542.5 179.7,535.0 175.3,530.0 167.7,525.6 158.9,521.8 153.3,518.6 151.1,513.6 152.4,508.6 155.8,506.3 159.2,506.1ZM161.4,500.2 179.7,500.2 180.6,511.1 180.3,519.9 178.4,522.7 175.3,523.0 173.0,520.5 172.8,513.6 170.3,508.6 165.8,506.3 161.4,506.1ZM135.7,541.9 139.4,540.7 142.3,543.2 142.8,548.8 145.1,556.4 150.1,560.8 155.8,562.0 155.8,567.1 148.9,567.1 141.9,565.8 136.9,563.3 135.3,558.9ZM184.4,501.7 210.4,501.7 210.4,565.2 185.7,565.2 184.4,562.7 186.9,560.4 189.8,558.9 190.1,509.8 188.2,507.1 184.8,505.1ZM214.0,501.7 232.8,501.7 233.1,519.9 231.3,521.4 229.1,520.5 226.5,514.9 221.5,509.8 216.5,507.9 214.0,507.6ZM215.0,529.0 217.7,526.8 220.9,523.7 222.8,521.2 224.7,520.5 225.5,522.4 225.5,543.2 224.3,545.3 222.1,544.8 220.5,540.7 217.7,536.3 215.0,533.7ZM214.0,557.0 220.3,556.4 225.3,553.9 228.4,548.8 229.7,545.7 232.2,544.8 234.3,546.3 234.7,552.6 234.7,565.2 214.0,565.2ZM255.2,501.7 273.5,501.7 286.7,558.3 291.1,560.5 291.1,563.6 261.5,563.6 260.9,561.2 263.0,558.9 262.8,551.4 250.8,551.0 250.2,545.1 261.5,544.6 253.3,506.1ZM251.4,513.6 253.7,519.3 248.3,533.8 245.8,543.8 245.1,558.9 250.2,561.2 250.2,563.6 231.9,563.6 232.6,560.8 237.0,558.3 241.4,543.8 247.0,526.2ZM287.8,501.7 301.1,501.7 301.1,505.8 298.2,508.3 295.7,512.4 294.4,518.0 293.8,521.8 291.9,524.3 289.4,523.9 287.8,521.8ZM303.9,501.7 325.9,501.7 325.9,556.4 328.4,558.9 331.0,561.5 330.3,564.0 298.8,564.0 298.2,561.5 300.7,559.6 303.9,557.1ZM328.4,501.7 341.7,501.7 341.7,521.8 340.4,523.9 337.6,524.3 336.0,522.4 335.4,517.4 333.5,511.1 331.0,508.0 328.4,506.1ZM341.1,502.0 368.2,502.0 368.2,558.9 372.6,561.5 373.3,564.0 341.8,564.0 341.8,561.5 344.9,559.6 346.2,557.7 346.2,509.8 344.3,508.0 341.1,506.1ZM371.0,502.0 384.6,502.0 392.1,504.2 396.2,509.8 397.2,516.8 395.3,525.0 391.5,530.2 394.7,535.0 396.9,541.3 397.4,548.9 399.7,554.2 402.8,554.5 406.0,552.7 408.0,553.3 408.0,557.7 403.5,562.7 397.2,565.0 389.6,565.5 382.7,564.6 378.3,562.1 376.4,557.7 375.8,548.9 374.8,541.3 372.6,536.9 371.0,534.4 371.0,532.5 374.5,530.6 376.1,526.2 376.1,514.9 375.5,509.8 372.6,506.7 371.0,504.8ZM422.5,501.7 440.8,501.7 454.0,558.3 458.4,560.5 458.4,563.6 428.8,563.6 428.2,561.2 430.3,558.9 430.1,551.4 418.1,551.0 417.5,545.1 428.8,544.6 420.6,506.1ZM418.7,513.6 421.0,519.3 415.6,533.8 413.1,543.8 412.4,558.9 417.5,561.2 417.5,563.6 399.2,563.6 399.9,560.8 404.3,558.3 408.7,543.8 414.3,526.2ZM482.8,500.8 473.4,501.7 464.6,507.3 458.3,517.4 456.4,530.0 457.7,543.8 462.7,555.2 472.1,562.7 485.0,565.0 485.0,560.2 481.0,557.7 479.1,548.9 478.7,533.8 479.1,512.4 480.3,508.6 482.8,506.7ZM487.3,501.3 493.5,502.5 499.2,507.3 503.0,514.9 504.9,522.4 503.9,526.2 501.7,526.0 499.8,521.2 496.1,511.1 490.4,506.7 487.3,505.8ZM487.3,560.5 493.5,557.9 499.2,553.3 501.7,547.0 504.2,545.7 507.1,547.6 507.4,555.2 503.0,561.5 494.2,564.6 487.3,565.0ZM509.3,501.7 539.5,501.7 539.5,504.8 536.3,507.3 536.3,557.7 539.5,559.5 540.8,561.4 540.8,564.6 509.9,564.6 509.9,561.4 512.4,559.5 515.6,557.7 515.6,507.3 512.4,505.4 509.3,504.8ZM546.4,502.0 566.5,502.0 566.5,505.1 563.4,507.3 558.4,513.0 553.3,520.5 555.2,526.2 562.1,542.6 569.1,557.7 573.5,560.2 574.1,564.6 543.0,564.6 543.0,561.4 544.9,558.9 542.4,548.9 539.0,536.3 538.5,532.5 541.4,524.9 546.4,516.1 550.8,509.2 549.6,507.1 546.4,505.8ZM573.7,501.7 599.7,501.7 599.7,565.2 575.0,565.2 573.7,562.7 576.2,560.4 579.1,558.9 579.4,509.8 577.5,507.1 574.1,505.1ZM603.3,501.7 622.1,501.7 622.4,519.9 620.6,521.4 618.4,520.5 615.8,514.9 610.8,509.8 605.8,507.9 603.3,507.6ZM604.3,529.0 607.0,526.8 610.2,523.7 612.1,521.2 614.0,520.5 614.8,522.4 614.8,543.2 613.6,545.3 611.4,544.8 609.8,540.7 607.0,536.3 604.3,533.7ZM603.3,557.0 609.6,556.4 614.6,553.9 617.7,548.8 619.0,545.7 621.5,544.8 623.6,546.3 624.0,552.6 624.0,565.2 603.3,565.2ZM625.3,502.0 652.4,502.0 652.4,558.9 656.8,561.5 657.5,564.0 626.0,564.0 626.0,561.5 629.1,559.6 630.4,557.7 630.4,509.8 628.5,508.0 625.3,506.1ZM655.2,502.0 668.8,502.0 676.3,504.2 680.4,509.8 681.4,516.8 679.5,525.0 675.7,530.2 678.9,535.0 681.1,541.3 681.6,548.9 683.9,554.2 687.0,554.5 690.2,552.7 692.2,553.3 692.2,557.7 687.7,562.7 681.4,565.0 673.8,565.5 666.9,564.6 662.5,562.1 660.6,557.7 660.0,548.9 659.0,541.3 656.8,536.9 655.2,534.4 655.2,532.5 658.7,530.6 660.3,526.2 660.3,514.9 659.7,509.8 656.8,506.7 655.2,504.8ZM713.2,502.0 740.3,502.0 740.3,558.9 744.7,561.5 745.4,564.0 713.9,564.0 713.9,561.5 717.0,559.6 718.3,557.7 718.3,509.8 716.4,508.0 713.2,506.1ZM743.1,502.0 756.7,502.0 764.2,504.2 768.3,509.8 769.3,516.8 767.4,525.0 763.6,530.2 766.8,535.0 769.0,541.3 769.5,548.9 771.8,554.2 774.9,554.5 778.1,552.7 780.1,553.3 780.1,557.7 775.6,562.7 769.3,565.0 761.7,565.5 754.8,564.6 750.4,562.1 748.5,557.7 747.9,548.9 746.9,541.3 744.7,536.9 743.1,534.4 743.1,532.5 746.6,530.6 748.2,526.2 748.2,514.9 747.6,509.8 744.7,506.7 743.1,504.8ZM774.4,502.9 775.7,501.7 804.6,501.7 805.9,503.6 804.6,506.1 800.9,507.6 800.5,555.1 802.8,559.5 807.2,561.4 807.2,566.5 796.5,566.2 786.4,564.0 780.7,558.9 778.8,552.6 778.8,508.0 775.7,506.7 774.4,504.8ZM813.4,502.9 814.7,501.7 833.0,501.7 834.2,503.6 833.0,505.4 828.5,507.6 827.9,548.9 825.4,558.9 819.1,564.6 809.3,566.7 809.3,561.4 814.1,559.5 818.5,555.1 820.4,548.9 820.4,508.0 815.3,506.1 813.4,504.8ZM688,557 A10.5,10 0 1 0 709,557 A10.5,10 0 1 0 688,557 Z" fill="none" stroke="#0876ae" stroke-width="2.1" clip-path="url(#cTop)"/>
<path d="M159.2,500.2 152.0,500.2 144.5,501.7 139.1,506.1 136.3,511.7 135.5,518.6 136.9,525.6 141.3,531.2 148.9,535.0 157.0,538.8 163.0,543.2 165.5,548.8 164.2,555.7 160.8,560.2 157.9,562.0 157.9,567.1 166.5,566.4 174.0,563.9 179.7,558.9 182.6,551.3 182.2,542.5 179.7,535.0 175.3,530.0 167.7,525.6 158.9,521.8 153.3,518.6 151.1,513.6 152.4,508.6 155.8,506.3 159.2,506.1ZM161.4,500.2 179.7,500.2 180.6,511.1 180.3,519.9 178.4,522.7 175.3,523.0 173.0,520.5 172.8,513.6 170.3,508.6 165.8,506.3 161.4,506.1ZM135.7,541.9 139.4,540.7 142.3,543.2 142.8,548.8 145.1,556.4 150.1,560.8 155.8,562.0 155.8,567.1 148.9,567.1 141.9,565.8 136.9,563.3 135.3,558.9ZM184.4,501.7 210.4,501.7 210.4,565.2 185.7,565.2 184.4,562.7 186.9,560.4 189.8,558.9 190.1,509.8 188.2,507.1 184.8,505.1ZM214.0,501.7 232.8,501.7 233.1,519.9 231.3,521.4 229.1,520.5 226.5,514.9 221.5,509.8 216.5,507.9 214.0,507.6ZM215.0,529.0 217.7,526.8 220.9,523.7 222.8,521.2 224.7,520.5 225.5,522.4 225.5,543.2 224.3,545.3 222.1,544.8 220.5,540.7 217.7,536.3 215.0,533.7ZM214.0,557.0 220.3,556.4 225.3,553.9 228.4,548.8 229.7,545.7 232.2,544.8 234.3,546.3 234.7,552.6 234.7,565.2 214.0,565.2ZM255.2,501.7 273.5,501.7 286.7,558.3 291.1,560.5 291.1,563.6 261.5,563.6 260.9,561.2 263.0,558.9 262.8,551.4 250.8,551.0 250.2,545.1 261.5,544.6 253.3,506.1ZM251.4,513.6 253.7,519.3 248.3,533.8 245.8,543.8 245.1,558.9 250.2,561.2 250.2,563.6 231.9,563.6 232.6,560.8 237.0,558.3 241.4,543.8 247.0,526.2ZM287.8,501.7 301.1,501.7 301.1,505.8 298.2,508.3 295.7,512.4 294.4,518.0 293.8,521.8 291.9,524.3 289.4,523.9 287.8,521.8ZM303.9,501.7 325.9,501.7 325.9,556.4 328.4,558.9 331.0,561.5 330.3,564.0 298.8,564.0 298.2,561.5 300.7,559.6 303.9,557.1ZM328.4,501.7 341.7,501.7 341.7,521.8 340.4,523.9 337.6,524.3 336.0,522.4 335.4,517.4 333.5,511.1 331.0,508.0 328.4,506.1ZM341.1,502.0 368.2,502.0 368.2,558.9 372.6,561.5 373.3,564.0 341.8,564.0 341.8,561.5 344.9,559.6 346.2,557.7 346.2,509.8 344.3,508.0 341.1,506.1ZM371.0,502.0 384.6,502.0 392.1,504.2 396.2,509.8 397.2,516.8 395.3,525.0 391.5,530.2 394.7,535.0 396.9,541.3 397.4,548.9 399.7,554.2 402.8,554.5 406.0,552.7 408.0,553.3 408.0,557.7 403.5,562.7 397.2,565.0 389.6,565.5 382.7,564.6 378.3,562.1 376.4,557.7 375.8,548.9 374.8,541.3 372.6,536.9 371.0,534.4 371.0,532.5 374.5,530.6 376.1,526.2 376.1,514.9 375.5,509.8 372.6,506.7 371.0,504.8ZM422.5,501.7 440.8,501.7 454.0,558.3 458.4,560.5 458.4,563.6 428.8,563.6 428.2,561.2 430.3,558.9 430.1,551.4 418.1,551.0 417.5,545.1 428.8,544.6 420.6,506.1ZM418.7,513.6 421.0,519.3 415.6,533.8 413.1,543.8 412.4,558.9 417.5,561.2 417.5,563.6 399.2,563.6 399.9,560.8 404.3,558.3 408.7,543.8 414.3,526.2ZM482.8,500.8 473.4,501.7 464.6,507.3 458.3,517.4 456.4,530.0 457.7,543.8 462.7,555.2 472.1,562.7 485.0,565.0 485.0,560.2 481.0,557.7 479.1,548.9 478.7,533.8 479.1,512.4 480.3,508.6 482.8,506.7ZM487.3,501.3 493.5,502.5 499.2,507.3 503.0,514.9 504.9,522.4 503.9,526.2 501.7,526.0 499.8,521.2 496.1,511.1 490.4,506.7 487.3,505.8ZM487.3,560.5 493.5,557.9 499.2,553.3 501.7,547.0 504.2,545.7 507.1,547.6 507.4,555.2 503.0,561.5 494.2,564.6 487.3,565.0ZM509.3,501.7 539.5,501.7 539.5,504.8 536.3,507.3 536.3,557.7 539.5,559.5 540.8,561.4 540.8,564.6 509.9,564.6 509.9,561.4 512.4,559.5 515.6,557.7 515.6,507.3 512.4,505.4 509.3,504.8ZM546.4,502.0 566.5,502.0 566.5,505.1 563.4,507.3 558.4,513.0 553.3,520.5 555.2,526.2 562.1,542.6 569.1,557.7 573.5,560.2 574.1,564.6 543.0,564.6 543.0,561.4 544.9,558.9 542.4,548.9 539.0,536.3 538.5,532.5 541.4,524.9 546.4,516.1 550.8,509.2 549.6,507.1 546.4,505.8ZM573.7,501.7 599.7,501.7 599.7,565.2 575.0,565.2 573.7,562.7 576.2,560.4 579.1,558.9 579.4,509.8 577.5,507.1 574.1,505.1ZM603.3,501.7 622.1,501.7 622.4,519.9 620.6,521.4 618.4,520.5 615.8,514.9 610.8,509.8 605.8,507.9 603.3,507.6ZM604.3,529.0 607.0,526.8 610.2,523.7 612.1,521.2 614.0,520.5 614.8,522.4 614.8,543.2 613.6,545.3 611.4,544.8 609.8,540.7 607.0,536.3 604.3,533.7ZM603.3,557.0 609.6,556.4 614.6,553.9 617.7,548.8 619.0,545.7 621.5,544.8 623.6,546.3 624.0,552.6 624.0,565.2 603.3,565.2ZM625.3,502.0 652.4,502.0 652.4,558.9 656.8,561.5 657.5,564.0 626.0,564.0 626.0,561.5 629.1,559.6 630.4,557.7 630.4,509.8 628.5,508.0 625.3,506.1ZM655.2,502.0 668.8,502.0 676.3,504.2 680.4,509.8 681.4,516.8 679.5,525.0 675.7,530.2 678.9,535.0 681.1,541.3 681.6,548.9 683.9,554.2 687.0,554.5 690.2,552.7 692.2,553.3 692.2,557.7 687.7,562.7 681.4,565.0 673.8,565.5 666.9,564.6 662.5,562.1 660.6,557.7 660.0,548.9 659.0,541.3 656.8,536.9 655.2,534.4 655.2,532.5 658.7,530.6 660.3,526.2 660.3,514.9 659.7,509.8 656.8,506.7 655.2,504.8ZM713.2,502.0 740.3,502.0 740.3,558.9 744.7,561.5 745.4,564.0 713.9,564.0 713.9,561.5 717.0,559.6 718.3,557.7 718.3,509.8 716.4,508.0 713.2,506.1ZM743.1,502.0 756.7,502.0 764.2,504.2 768.3,509.8 769.3,516.8 767.4,525.0 763.6,530.2 766.8,535.0 769.0,541.3 769.5,548.9 771.8,554.2 774.9,554.5 778.1,552.7 780.1,553.3 780.1,557.7 775.6,562.7 769.3,565.0 761.7,565.5 754.8,564.6 750.4,562.1 748.5,557.7 747.9,548.9 746.9,541.3 744.7,536.9 743.1,534.4 743.1,532.5 746.6,530.6 748.2,526.2 748.2,514.9 747.6,509.8 744.7,506.7 743.1,504.8ZM774.4,502.9 775.7,501.7 804.6,501.7 805.9,503.6 804.6,506.1 800.9,507.6 800.5,555.1 802.8,559.5 807.2,561.4 807.2,566.5 796.5,566.2 786.4,564.0 780.7,558.9 778.8,552.6 778.8,508.0 775.7,506.7 774.4,504.8ZM813.4,502.9 814.7,501.7 833.0,501.7 834.2,503.6 833.0,505.4 828.5,507.6 827.9,548.9 825.4,558.9 819.1,564.6 809.3,566.7 809.3,561.4 814.1,559.5 818.5,555.1 820.4,548.9 820.4,508.0 815.3,506.1 813.4,504.8ZM688,557 A10.5,10 0 1 0 709,557 A10.5,10 0 1 0 688,557 Z" fill="#0876ae" stroke="#0876ae" stroke-width="0.8" clip-path="url(#cBot)"/>
</g>

</svg>
</body></html>
